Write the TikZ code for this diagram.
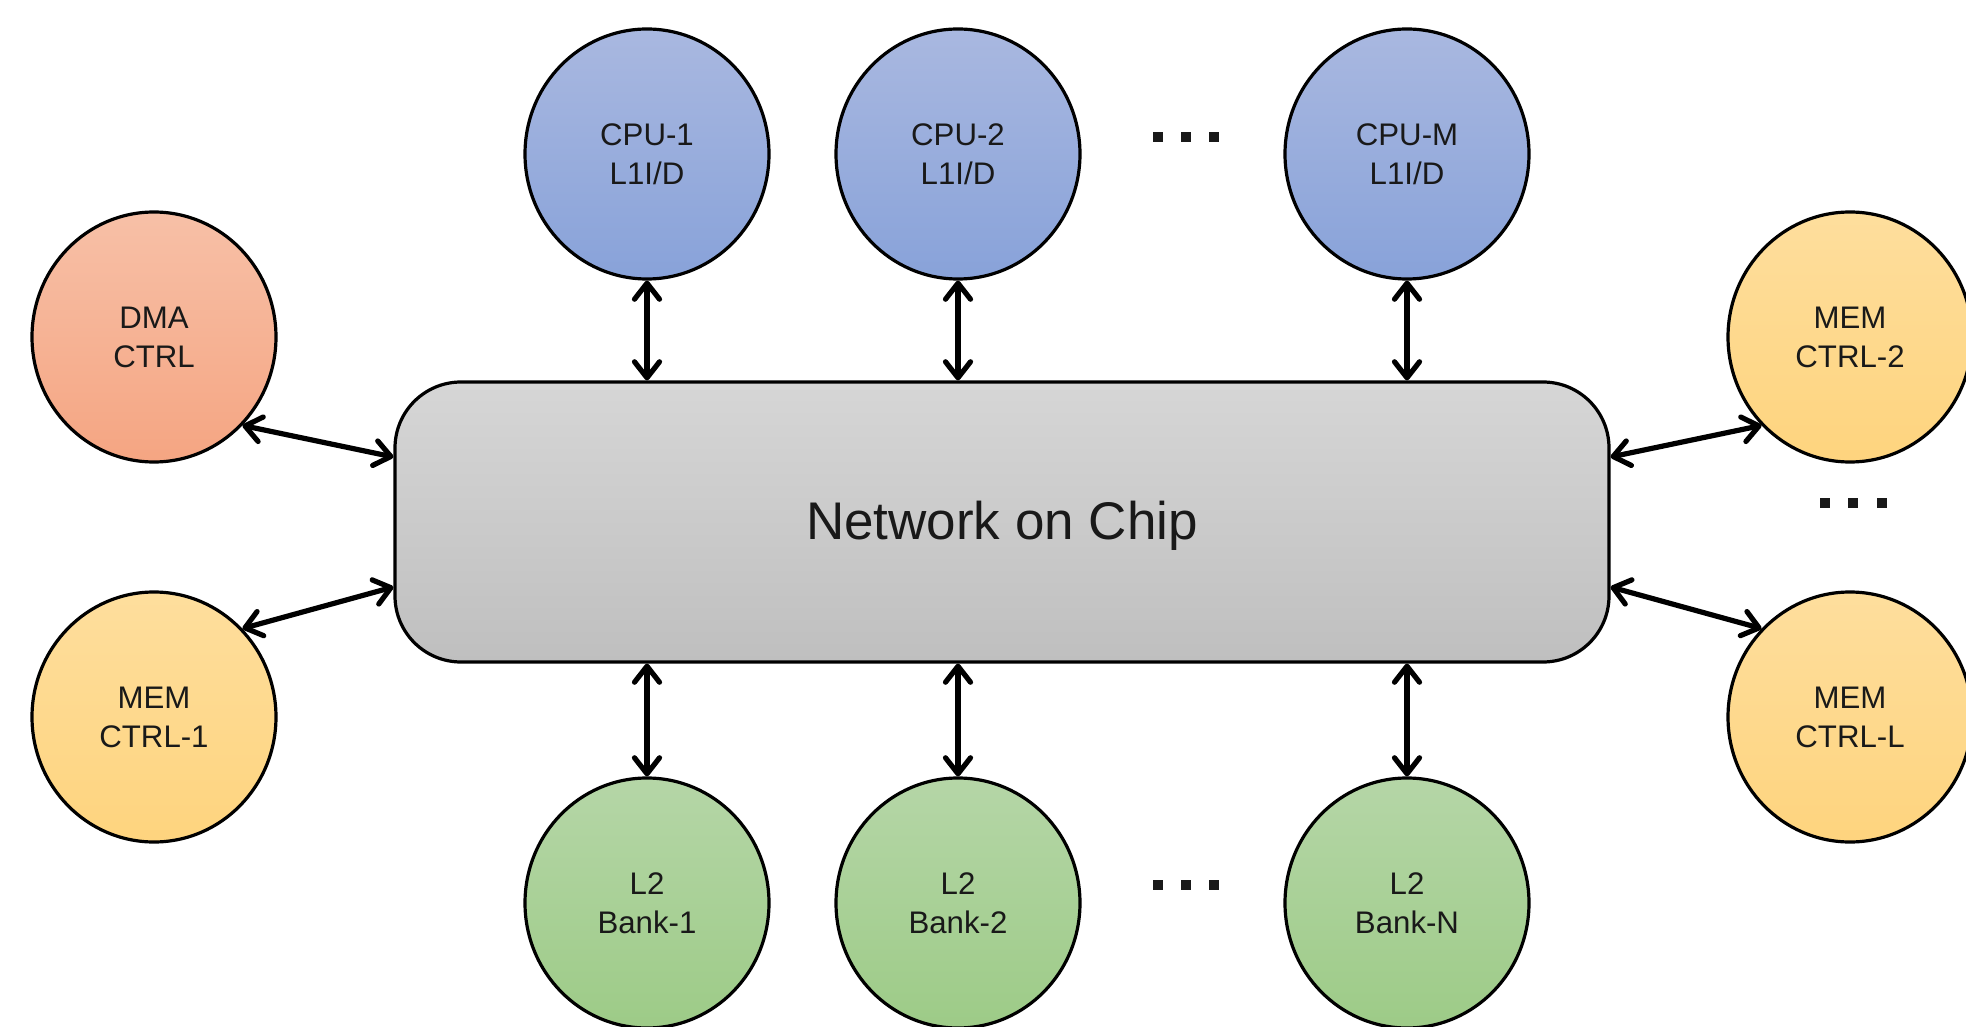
\documentclass[tikz,border=0pt]{standalone}
\usepackage{fontspec}
\setmainfont{Liberation Sans}
\usetikzlibrary{arrows.meta,calc,shapes.geometric}
\definecolor{cpuTop}{RGB}{169,184,224}
\definecolor{cpuBot}{RGB}{136,162,217}
\definecolor{dmaTop}{RGB}{247,192,167}
\definecolor{dmaBot}{RGB}{245,165,130}
\definecolor{memTop}{RGB}{254,222,157}
\definecolor{memBot}{RGB}{254,212,126}
\definecolor{ltwoTop}{RGB}{181,214,167}
\definecolor{ltwoBot}{RGB}{157,203,135}
\definecolor{nocTop}{RGB}{214,214,214}
\definecolor{nocBot}{RGB}{191,191,191}
\begin{document}
\begin{tikzpicture}[x=0.5pt,y=-0.5pt,
  unit/.style={ellipse, draw=black, line width=1.6pt, minimum width=122pt, minimum height=125pt,
    inner sep=0pt, align=center, font=\fontsize{15.6}{19.5}\selectfont, text=black!90},
  cpu/.style={unit, top color=cpuTop, bottom color=cpuBot},
  dma/.style={unit, top color=dmaTop, bottom color=dmaBot},
  mem/.style={unit, top color=memTop, bottom color=memBot},
  ltwo/.style={unit, top color=ltwoTop, bottom color=ltwoBot},
  noc/.style={rectangle, rounded corners=33pt, draw=black, line width=1.6pt,
    minimum width=607pt, minimum height=140pt, top color=nocTop, bottom color=nocBot,
    font=\fontsize{26.5}{30}\selectfont, text=black!90, text height=17.5pt, text depth=0pt},
  barb/.tip={Straight Barb[length=8pt,width=12.5pt,round]},
  link/.style={line width=2.6pt, barb-barb},
  dotsq/.style={fill=black!90}
]
\useasboundingbox (0,0) rectangle (1966,1027);
\clip (0,0) rectangle (1966,1027);

\node[noc] (noc) at (1002,522) {Network on Chip};

\node[cpu] (cpu1) at (647,154) {CPU-1\\L1I/D};
\node[cpu] (cpu2) at (958,154) {CPU-2\\L1I/D};
\node[cpu] (cpum) at (1407,154) {CPU-M\\L1I/D};

\node[ltwo] (l2a) at (647,903) {L2\\Bank-1};
\node[ltwo] (l2b) at (958,903) {L2\\Bank-2};
\node[ltwo] (l2n) at (1407,903) {L2\\Bank-N};

\node[dma] (dma) at (154,337) {DMA\\CTRL};
\node[mem] (mem1) at (154,717) {MEM\\CTRL-1};
\node[mem] (mem2) at (1850,337) {MEM\\CTRL-2};
\node[mem] (meml) at (1850,717) {MEM\\CTRL-L};

\draw[link] (cpu1.south) -- (cpu1.south |- noc.north);
\draw[link] (cpu2.south) -- (cpu2.south |- noc.north);
\draw[link] (cpum.south) -- (cpum.south |- noc.north);
\draw[link] (l2a.north |- noc.south) -- (l2a.north);
\draw[link] (l2b.north |- noc.south) -- (l2b.north);
\draw[link] (l2n.north |- noc.south) -- (l2n.north);

\draw[link] (dma.-45) -- ($(noc.west)+(0,-65)$);
\draw[link] (mem1.45) -- ($(noc.west)+(0,65)$);
\draw[link] ($(noc.east)+(0,-65)$) -- (mem2.225);
\draw[link] ($(noc.east)+(0,65)$) -- (meml.135);

% ellipsis dots
\foreach \x in {1158,1186,1214} {
  \fill[dotsq] (\x-5,132) rectangle (\x+5,142);
  \fill[dotsq] (\x-5,880) rectangle (\x+5,890);
}
\foreach \x in {1825,1853,1882} {
  \fill[dotsq] (\x-5,498) rectangle (\x+5,508);
}
\end{tikzpicture}
\end{document}
